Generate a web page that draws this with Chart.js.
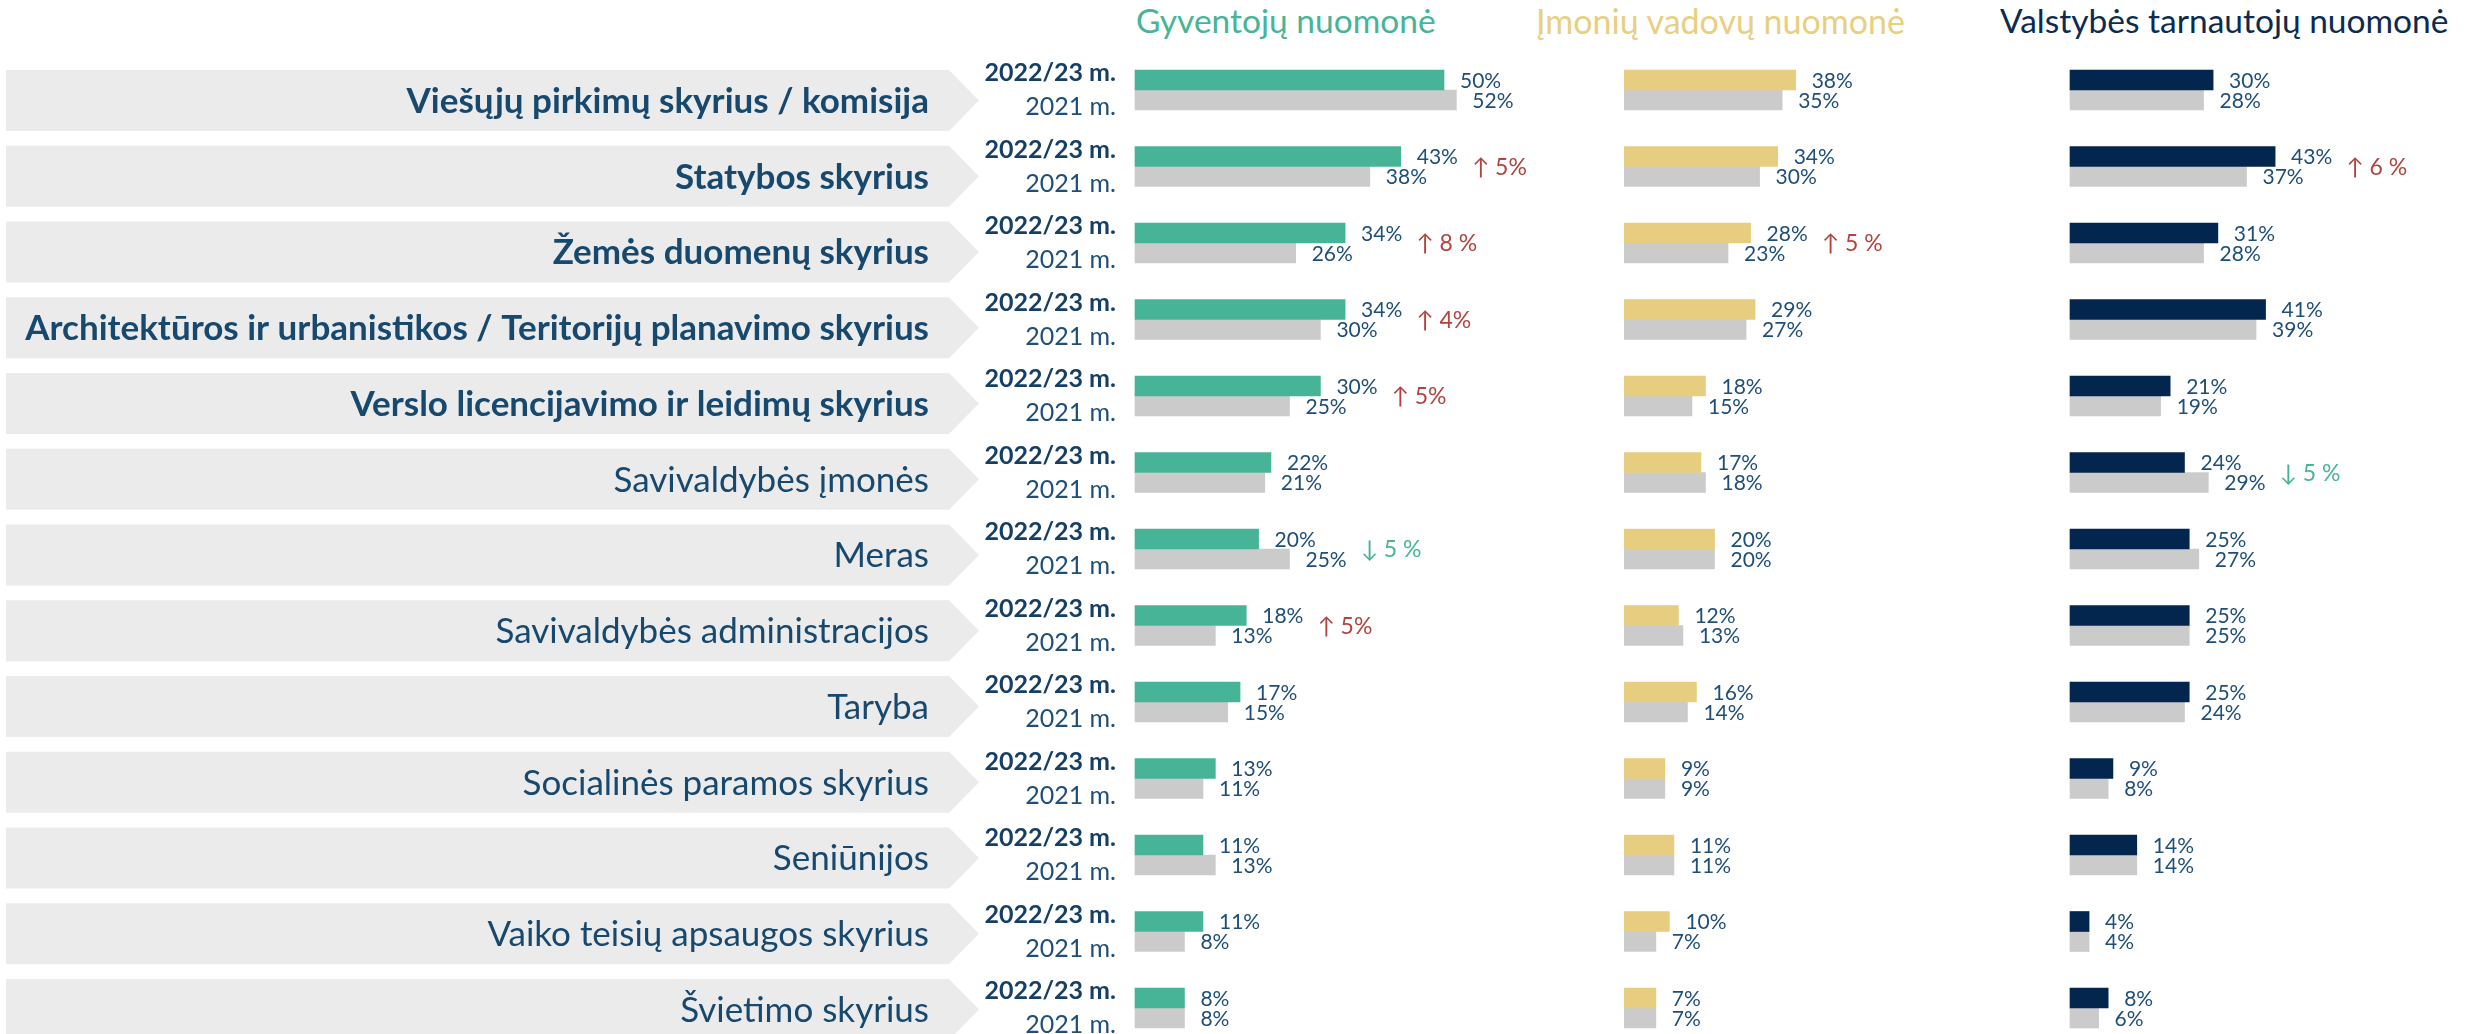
<!DOCTYPE html>
<html lang="lt">
<head>
<meta charset="utf-8">
<title>Nuomonės apie skyrius</title>
<script src="https://cdn.jsdelivr.net/npm/chart.js@4"></script>
<style>
  html, body { margin: 0; padding: 0; background: #fff; overflow: hidden; }
  #page { position: relative; width: 2476px; height: 1034px; }
  canvas { position: absolute; top: 0; }
  .title { position: absolute; top: 4px; font: 33.5px Lato, sans-serif; line-height: 1; white-space: nowrap; }
</style>
</head>
<body>
<div id="page">
  <div class="title" style="left:1136px;color:#47B497">Gyventojų nuomonė</div>
  <div class="title" style="left:1536px;color:#E8CF82;font-size:34px">Įmonių vadovų nuomonė</div>
  <div class="title" style="left:2000px;color:#0B2B50">Valstybės tarnautojų nuomonė</div>
  <canvas id="residents" width="1560" height="1034" style="left:0"></canvas>
  <canvas id="managers" width="420" height="1034" style="left:1600px"></canvas>
  <canvas id="servants" width="436" height="1034" style="left:2040px"></canvas>
</div>
<script>
const categories = [
  'Viešųjų pirkimų skyrius / komisija',
  'Statybos skyrius',
  'Žemės duomenų skyrius',
  'Architektūros ir urbanistikos / Teritorijų planavimo skyrius',
  'Verslo licencijavimo ir leidimų skyrius',
  'Savivaldybės įmonės',
  'Meras',
  'Savivaldybės administracijos',
  'Taryba',
  'Socialinės paramos skyrius',
  'Seniūnijos',
  'Vaiko teisių apsaugos skyrius',
  'Švietimo skyrius'
];
const boldRows = 5;
const yearLabels = ['2022/23 m.', '2021 m.'];

const residents2023 = [50, 43, 34, 34, 30, 22, 20, 18, 17, 13, 11, 11, 8];
const residents2021 = [52, 38, 26, 30, 25, 21, 25, 13, 15, 11, 13, 8, 8];
const managers2023 = [38, 34, 28, 29, 18, 17, 20, 12, 16, 9, 11, 10, 7];
const managers2021 = [35, 30, 23, 27, 15, 18, 20, 13, 14, 9, 11, 7, 7];
const servants2023 = [30, 43, 31, 41, 21, 24, 25, 25, 25, 9, 14, 4, 8];
const servants2021 = [28, 37, 28, 39, 19, 29, 27, 25, 24, 8, 14, 4, 6];

const residentsChange = [null, '↑ 5%', '↑ 8 %', '↑ 4%', '↑ 5%', null, '↓ 5 %', '↑ 5%', null, null, null, null, null];
const managersChange = [null, null, '↑ 5 %', null, null, null, null, null, null, null, null, null, null];
const servantsChange = [null, '↑ 6 %', null, null, null, '↓ 5 %', null, null, null, null, null, null, null];

const GRAY = '#CBCBCB';
const TEXT = '#1F4E79';
const UP = '#B0453F';
const DOWN = '#47B497';
const X_MAX = 60;

// value labels next to the bars + change arrows
function labelPlugin(changes) {
  return {
    id: 'valueLabels',
    afterDatasetsDraw(chart) {
      const ctx = chart.ctx;
      const ends = [];
      ctx.save();
      ctx.font = '21px Lato';
      ctx.fillStyle = TEXT;
      ctx.textAlign = 'left';
      ctx.textBaseline = 'middle';
      chart.data.datasets.forEach((ds, di) => {
        chart.getDatasetMeta(di).data.forEach((bar, i) => {
          const txt = ds.data[i] + '%';
          const x = bar.x + 16;
          ctx.fillText(txt, x, bar.y + 1);
          ends[i] = Math.max(ends[i] || 0, x + ctx.measureText(txt).width);
        });
      });
      ctx.font = '23px Lato, "DejaVu Sans"';
      changes.forEach((c, i) => {
        if (!c) return;
        ctx.fillStyle = c.startsWith('↓') ? DOWN : UP;
        ctx.fillText(c, ends[i] + 14, chart.scales.y.getPixelForValue(i) + 1);
      });
      ctx.restore();
    }
  };
}

// grey chevrons with category names and year captions
const rowLabels = {
  id: 'rowLabels',
  beforeDatasetsDraw(chart) {
    const { ctx, scales: { y } } = chart;
    ctx.save();
    ctx.textAlign = 'right';
    ctx.textBaseline = 'middle';
    categories.forEach((name, i) => {
      const cy = y.getPixelForValue(i);
      const bc = cy + 10.5 - 0.75 * i;
      ctx.fillStyle = '#EBEBEB';
      ctx.beginPath();
      ctx.moveTo(6, bc - 30.5);
      ctx.lineTo(949, bc - 30.5);
      ctx.lineTo(979, bc);
      ctx.lineTo(949, bc + 30.5);
      ctx.lineTo(6, bc + 30.5);
      ctx.closePath();
      ctx.fill();

      ctx.font = (i < boldRows ? 'bold ' : '') + '35px Lato';
      ctx.fillStyle = '#17486E';
      ctx.fillText(name, 929, bc + 1);

      ctx.font = 'bold 25px Lato';
      ctx.fillStyle = '#163F66';
      ctx.fillText(yearLabels[0], 1116, cy - 17);
      ctx.font = '25px Lato';
      ctx.fillStyle = TEXT;
      ctx.fillText(yearLabels[1], 1116, cy + 17);
    });
    ctx.restore();
  }
};

function makeChart(id, canvasLeft, canvasWidth, barStart, pxPerPct, current, previous, color, changes, extra) {
  const padLeft = barStart - canvasLeft;
  const padRight = canvasWidth - padLeft - X_MAX * pxPerPct;
  return new Chart(document.getElementById(id), {
    type: 'bar',
    data: {
      labels: categories,
      datasets: [
        { label: yearLabels[0], data: current, backgroundColor: color, barThickness: 20, clip: false },
        { label: yearLabels[1], data: previous, backgroundColor: GRAY, barThickness: 20, clip: false }
      ]
    },
    options: {
      responsive: false,
      animation: false,
      indexAxis: 'y',
      layout: { padding: { top: 90, bottom: 26, left: padLeft, right: padRight } },
      plugins: { legend: { display: false }, tooltip: { enabled: false } },
      scales: {
        x: { display: false, min: 0, max: X_MAX },
        y: { display: false, offset: false }
      }
    },
    plugins: extra ? [extra, labelPlugin(changes)] : [labelPlugin(changes)]
  });
}

function init() {
  makeChart('residents', 0, 1560, 1135, 6.18, residents2023, residents2021, '#47B497', residentsChange, rowLabels);
  makeChart('managers', 1600, 420, 1624.3, 4.51, managers2023, managers2021, '#E6CD7F', managersChange);
  makeChart('servants', 2040, 436, 2070, 4.77, servants2023, servants2021, '#03264E', servantsChange);
}

Promise.all([
  document.fonts.load('35px Lato'),
  document.fonts.load('bold 35px Lato')
]).then(init, init);
</script>
</body>
</html>
